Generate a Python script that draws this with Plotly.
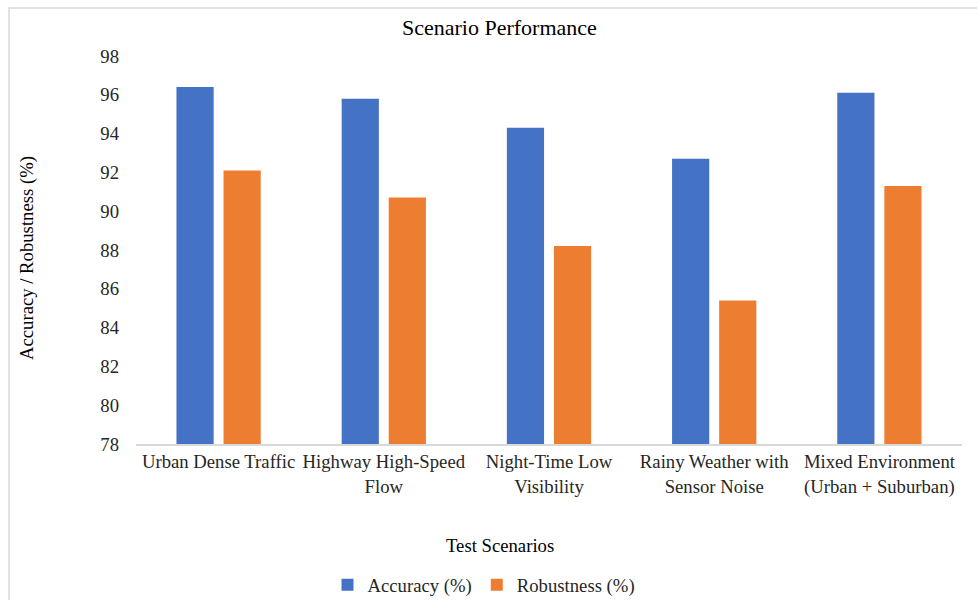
import plotly.graph_objects as go

categories = ["Urban Dense Traffic", "Highway High-Speed<br>Flow", "Night-Time Low<br>Visibility",
              "Rainy Weather with<br>Sensor Noise", "Mixed Environment<br>(Urban + Suburban)"]
accuracy = [96.4, 95.8, 94.3, 92.7, 96.1]
robustness = [92.1, 90.7, 88.2, 85.4, 91.3]
y_ticks = [78, 80, 82, 84, 86, 88, 90, 92, 94, 96, 98]

W, H = 977, 600
L, R, T, B = 136, 15, 56, 156
pw, ph = W - L - R, H - T - B
def px(x): return (x - L) / pw
def py(y): return (H - B - y) / ph

font = "Liberation Serif, Times New Roman, serif"
FS = 18.7
fig = go.Figure()
fig.add_trace(go.Bar(name="Accuracy (%)", x=categories, y=accuracy, marker_color="#4472C4",
                     marker_line_width=0))
fig.add_trace(go.Bar(name="Robustness (%)", x=categories, y=robustness, marker_color="#ED7D31",
                     marker_line_width=0))

fig.update_layout(
    width=W, height=H,
    margin=dict(l=L, r=R, t=T, b=B, autoexpand=False),
    paper_bgcolor="white", plot_bgcolor="white",
    font=dict(family=font, size=FS, color="#262626"),
    barmode="group", bargap=0.43, bargroupgap=0.21,
    showlegend=True,
    legend=dict(orientation="h", x=px(484), xanchor="center", y=py(585), yanchor="middle",
                font=dict(size=FS, color="#262626"), itemwidth=30, traceorder="normal"),
    xaxis=dict(showgrid=False, showline=True, linecolor="#d9d9d9", linewidth=1.5,
               ticks="", tickfont=dict(size=FS), automargin=False),
    yaxis=dict(range=[78, 98], tickvals=y_ticks, showgrid=False, zeroline=False,
               showline=False, ticks="", tickfont=dict(size=FS), ticklabelstandoff=16,
               automargin=False),
    annotations=[
        dict(text="Scenario Performance", x=px(499), y=py(27), xref="paper", yref="paper",
             showarrow=False, font=dict(size=22, color="#000000"), xanchor="center", yanchor="middle"),
        dict(text="Accuracy / Robustness (%)", x=px(27), y=py(258), xref="paper", yref="paper",
             showarrow=False, textangle=-90, font=dict(size=FS, color="#000000"),
             xanchor="center", yanchor="middle"),
        dict(text="Test Scenarios", x=px(500), y=py(545), xref="paper", yref="paper",
             showarrow=False, font=dict(size=FS, color="#000000"), xanchor="center", yanchor="middle"),
    ],
    shapes=[
        dict(type="rect", xref="paper", yref="paper", x0=px(9), x1=px(990), y0=py(8), y1=py(620),
             line=dict(color="#d9d9d9", width=1.5), fillcolor="rgba(0,0,0,0)", layer="below"),
    ],
)
post = ("var d=document.getElementById('{plot_id}');"
        "d.style.position='fixed';d.style.top='0';d.style.left='0';"
        "document.body.style.margin='0';document.body.style.overflow='hidden';"
        "document.documentElement.style.overflow='hidden';")
fig.write_html("out.html", config={"displayModeBar": False}, post_script=post)
